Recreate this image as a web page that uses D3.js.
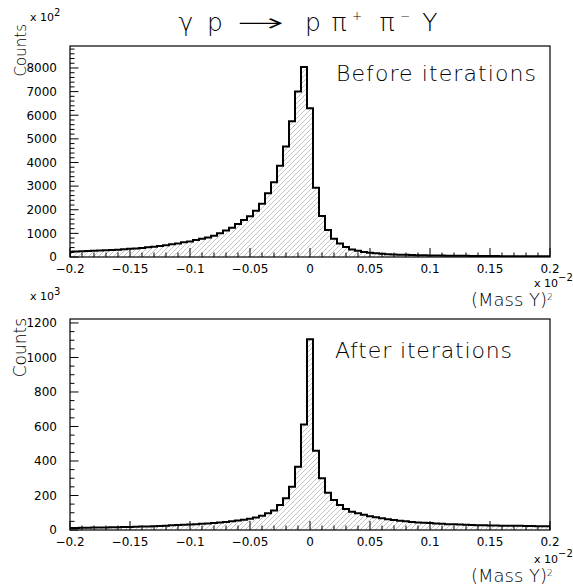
<!DOCTYPE html>
<html><head><meta charset="utf-8">
<script src="https://cdn.jsdelivr.net/npm/d3@7"></script>
<style>body{margin:0;background:#fff}svg{display:block}text{font-family:"DejaVu Sans",sans-serif;fill:#000}.lt{font-weight:200}</style>
</head><body><svg id="c" width="573" height="587"></svg>
<script>
// ---- data ----
const xTicks = [-0.2,-0.15,-0.1,-0.05,0,0.05,0.1,0.15,0.2];
const xTickLabels = ["\u22120.2","\u22120.15","\u22120.1","\u22120.05","0","0.05","0.1","0.15","0.2"];
const topYTicks = [0,1000,2000,3000,4000,5000,6000,7000,8000];
const bottomYTicks = [0,200,400,600,800,1000,1200];
const binLow = -0.2025, binWidth = 0.005;
const beforeCounts = [225,232,240,250,260,270,282,295,310,325,
 345,365,385,410,435,465,500,535,575,620,
 660,715,770,820,900,1000,1120,1240,1400,1570,
 1720,1960,2250,2700,3160,3860,4680,5740,7000,8040,
 6300,2930,1730,1140,770,570,420,320,265,215,
 180,155,135,120,108,98,90,84,78,73,
 68,64,60,57,54,51,48,46,44,42,
 40,38,36,35,34,32,31,30,29,28,27];
const afterCounts = [12,12,13,13,14,14,15,16,16,17,
 18,19,20,21,22,23,25,27,29,31,
 32,34,36,38,40,43,47,51,55,60,
 65,72,82,97,113,145,184,251,367,612,
 1105,460,300,216,174,145,122,106,97,88,
 80,74,68,63,58,54,50,47,44,42,
 40,38,36,34,33,32,30,29,28,27,
 26,26,25,25,24,24,23,23,22,22,22];

const svg = d3.select("#c");
const defs = svg.append("defs");
const pat = defs.append("pattern").attr("id","hatch").attr("patternUnits","userSpaceOnUse")
  .attr("width",5).attr("height",5);
pat.append("path").attr("d","M-1,1 L1,-1 M0,5 L5,0 M4,6 L6,4")
  .attr("stroke","#a8a8a8").attr("stroke-width",0.7);

const X0 = 70, X1 = 550;
const x = d3.scaleLinear().domain([-0.2,0.2]).range([X0,X1]);

const panels = [
  {values: beforeCounts, yTicks: topYTicks, yMax: 8930, minor: 200, top: 46, bottom: 257,
   label: "Before iterations", lx: 336, ly: 81, lw: 200, exp: "2", ex: 30, ey: 21, cy: 24, cs: 15, mo: 30, to: 49},
  {values: afterCounts, yTicks: bottomYTicks, yMax: 1223, minor: 50, top: 319, bottom: 530,
   label: "After iterations", lx: 335, ly: 358, lw: 177, exp: "3", ex: 30, ey: 300, cy: 318, cs: 17, mo: 33, to: 52}
];

panels.forEach((p, pi) => {
  const y = d3.scaleLinear().domain([0, p.yMax]).range([p.bottom, p.top]);
  const g = svg.append("g");
  const cid = "clip" + pi;
  defs.append("clipPath").attr("id", cid).append("rect")
    .attr("x", X0).attr("y", p.top).attr("width", X1 - X0).attr("height", p.bottom - p.top);

  // histogram step path
  let d = "";
  p.values.forEach((v, i) => {
    const a = Math.max(-0.2, binLow + i * binWidth), b = Math.min(0.2, binLow + (i + 1) * binWidth);
    if (i === 0) d += `M${x(a)},${y(0)}V${y(v)}`; else d += `V${y(v)}`;
    d += `H${x(b)}`;
  });
  d += `V${y(0)}`;
  g.append("path").attr("d", d + "Z").attr("fill", "url(#hatch)").attr("clip-path", `url(#${cid})`);
  g.append("path").attr("d", d).attr("fill", "none").attr("stroke", "#000").attr("stroke-width", 2)
    .attr("stroke-linejoin", "miter").attr("clip-path", `url(#${cid})`);

  // frame
  g.append("rect").attr("x", X0).attr("y", p.top).attr("width", X1 - X0).attr("height", p.bottom - p.top)
    .attr("fill", "none").attr("stroke", "#000").attr("stroke-width", 1.2);

  // y axis ticks (inside)
  const yMinor = d3.range(0, p.yMax, p.minor);
  yMinor.forEach(v => {
    const major = p.yTicks.includes(v);
    g.append("line").attr("x1", X0).attr("x2", X0 + (major ? 8.5 : 4.5))
      .attr("y1", y(v)).attr("y2", y(v)).attr("stroke", "#000").attr("stroke-width", 1);
  });
  p.yTicks.forEach(v => {
    g.append("text").attr("x", 57).attr("y", y(v)).attr("dy", "0.36em")
      .attr("text-anchor", "end").attr("font-size", 12).text(String(v));
  });

  // x axis ticks (inside)
  const xm = d3.range(-20, 21).map(k => k / 100);
  xm.forEach(v => {
    const major = Math.abs(Math.round(v * 100) % 5) === 0;
    g.append("line").attr("x1", x(v)).attr("x2", x(v))
      .attr("y1", p.bottom).attr("y2", p.bottom - (major ? 9 : 4.5)).attr("stroke", "#000").attr("stroke-width", 1);
  });
  xTicks.forEach((v, i) => {
    g.append("text").attr("x", x(v)).attr("y", p.bottom + 16).attr("text-anchor", "middle")
      .attr("font-size", 12).text(xTickLabels[i]);
  });

  // multiplier label on y
  const e = g.append("text").attr("x", p.ex).attr("y", p.ey).attr("font-size", 11);
  e.append("tspan").text("x 10");
  e.append("tspan").attr("dy", -5).attr("font-size", 10).text(p.exp);

  // y title
  g.append("text").attr("class", "lt").attr("transform", `translate(26,${p.cy}) rotate(-90)`).attr("text-anchor", "end")
    .attr("font-size", p.cs).text("Counts");

  // x multiplier and title
  const xe = g.append("text").attr("x", 534).attr("y", p.bottom + p.mo).attr("font-size", 11);
  xe.append("tspan").text("x 10");
  xe.append("tspan").attr("dy", -6).attr("font-size", 10).text("\u22122");
  const xt = g.append("text").attr("class", "lt").attr("x", 471).attr("y", p.bottom + p.to).attr("font-size", 18);
  xt.append("tspan").text("(Mass Y)");
  xt.append("tspan").attr("dy", -6).attr("font-size", 9).text("2");

  // panel label
  g.append("text").attr("class", "lt").attr("x", p.lx).attr("y", p.ly).attr("font-size", 22)
    .attr("textLength", p.lw).attr("lengthAdjust", "spacing").text(p.label);
});

// title, token by token
const titleTokens = [
  {t: "\u03B3", x: 186, s: 25, dy: 0},
  {t: "p", x: 215, s: 25, dy: 0},
  {t: "\u2192", x: 260, s: 25, dy: 0, w: 48},
  {t: "p", x: 313, s: 25, dy: 0},
  {t: "\u03C0", x: 339, s: 25, dy: 0},
  {t: "+", x: 357, s: 12, dy: -11},
  {t: "\u03C0", x: 387, s: 25, dy: 0},
  {t: "\u2212", x: 405, s: 12, dy: -11},
  {t: "Y", x: 430, s: 25, dy: 0}
];
const tg = svg.append("g").attr("class", "lt");
titleTokens.forEach(k => {
  const el = tg.append("text").attr("x", k.x).attr("y", 31 + k.dy).attr("text-anchor", "middle")
    .attr("font-size", k.s).text(k.t);
  if (k.w) {
    const len = el.node().getComputedTextLength();
    const sx = k.w / len;
    el.attr("x", 0).attr("transform", `translate(${k.x},0) scale(${sx},1)`);
  }
});
</script></body></html>
